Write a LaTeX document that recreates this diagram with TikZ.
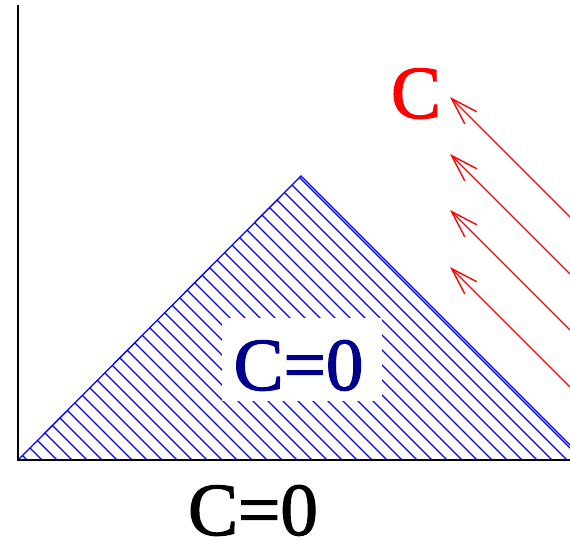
\documentclass[tikz,border=0pt]{standalone}
\usepackage{fontspec}
\setmainfont{Liberation Serif}
\newfontfamily\bigserif[FakeBold=1.6]{Liberation Serif}
\usetikzlibrary{arrows.meta}
\definecolor{navy}{RGB}{0,0,140}
\tikzset{
  axis/.style={line width=2pt,black},
  edge/.style={line width=1.3pt,blue},
  hatch/.style={line width=1.1pt,blue},
  ray/.style={line width=1.4pt,red,-{Straight Barb[length=27pt,width=17pt]}},
  bigtxt/.style={font=\bigserif\fontsize{75}{80}\selectfont,inner sep=0pt,anchor=base}
}
\begin{document}
\begin{tikzpicture}[x=1pt,y=-1pt]
\useasboundingbox (0,0) rectangle (570,541);
\clip (0,0) rectangle (570,541);
% hatched triangle
\coordinate (bl) at (18,460);
\coordinate (apex) at (301,176);
\coordinate (br) at (585,460);
\begin{scope}
  \clip (bl) -- (apex) -- (br) -- cycle;
  \foreach \c in {-433,-418,...,125}
    \draw[hatch] ({\c+150},150) -- ({\c+480},480);
\end{scope}
\draw[edge] (bl) -- (apex) -- (br);
\fill[white] (222,318) rectangle (382,401);
\node[bigtxt,text=navy] (inner) at (298.5,390) {C=0};
% axes
\coordinate (top) at (18,5);
\coordinate (orig) at (18,460);
\coordinate (xend) at (572,460);
\draw[axis] (top) -- (orig) -- (xend);
\node[bigtxt] (bottom) at (253,535) {C=0};
% red C and arrows
\node[bigtxt,text=red] (redc) at (416,118) {C};
\foreach \i/\ty in {1/97,2/154,3/210,4/267}{
  \coordinate (s\i) at (570,{\ty+120});
  \coordinate (e\i) at (450,\ty);
  \draw[ray] (s\i) -- (e\i);
}
\end{tikzpicture}
\end{document}
